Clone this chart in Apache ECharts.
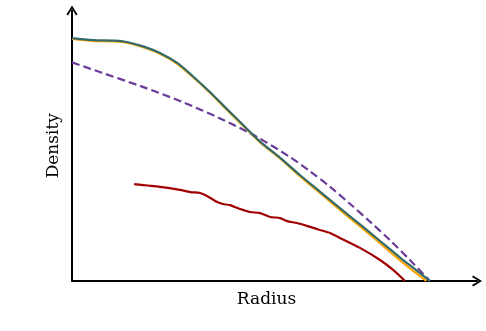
<!DOCTYPE html>
<html>
<head>
<meta charset="utf-8">
<script src="https://cdn.jsdelivr.net/npm/echarts@6/dist/echarts.min.js"></script>
<style>
  html, body { margin: 0; padding: 0; background: #fff; }
  #main { width: 486px; height: 331px; }
</style>
</head>
<body>
<div id="main"></div>
<script>
// radius / density pairs (normalised units)
var tealLine = [
	[0.000, 0.880], [0.051, 0.873], [0.105, 0.871], [0.134, 0.866], [0.174, 0.850],
	[0.215, 0.826], [0.257, 0.790], [0.296, 0.741], [0.337, 0.685], [0.374, 0.630],
	[0.411, 0.576], [0.460, 0.505], [0.509, 0.446], [0.557, 0.384], [0.606, 0.324],
	[0.655, 0.264], [0.704, 0.205], [0.753, 0.145], [0.802, 0.085], [0.839, 0.042],
	[0.875, 0.000]
];
var orangeLine = [
	[0.000, 0.877], [0.051, 0.870], [0.105, 0.868], [0.134, 0.863], [0.174, 0.847],
	[0.215, 0.823], [0.257, 0.787], [0.296, 0.738], [0.337, 0.682], [0.374, 0.627],
	[0.411, 0.573], [0.460, 0.502], [0.509, 0.443], [0.557, 0.380], [0.606, 0.319],
	[0.655, 0.258], [0.704, 0.198], [0.753, 0.137], [0.802, 0.075], [0.839, 0.031],
	[0.866, 0.000]
];
var purpleLine = [
	[0.000, 0.792], [0.068, 0.757], [0.166, 0.707], [0.269, 0.649], [0.362, 0.589],
	[0.452, 0.522], [0.533, 0.449], [0.582, 0.397], [0.631, 0.341], [0.680, 0.279],
	[0.729, 0.214], [0.778, 0.147], [0.826, 0.076], [0.875, 0.000]
];
var redLine = [
	[0.152, 0.351], [0.215, 0.341], [0.264, 0.330], [0.289, 0.322], [0.313, 0.319],
	[0.330, 0.308], [0.355, 0.286], [0.369, 0.279], [0.386, 0.275], [0.411, 0.261],
	[0.435, 0.250], [0.460, 0.246], [0.484, 0.232], [0.509, 0.228], [0.526, 0.217],
	[0.550, 0.210], [0.582, 0.196], [0.606, 0.185], [0.631, 0.174], [0.655, 0.156],
	[0.704, 0.120], [0.753, 0.076], [0.785, 0.040], [0.814, 0.000]
];

// open chevron used as the axis arrow head
var chevron = 'path://M50,0 L100,80 L86,90 L50,30 L14,90 L0,80 Z';

function lineSeries(name, data, color, dash, smooth) {
	return {
		name: name,
		type: 'line',
		data: data,
		showSymbol: false,
		smooth: smooth,
		silent: true,
		lineStyle: { color: color, width: 2.2, type: dash || 'solid', cap: 'butt' }
	};
}

var myChart = echarts.init(document.getElementById('main'));
var option = {
	animation: false,
	grid: { left: 72, top: 10.5, right: 9, bottom: 50, containLabel: false },
	xAxis: {
		type: 'value',
		min: 0,
		max: 0.99,
		name: 'Radius',
		nameLocation: 'middle',
		nameGap: 10,
		nameTextStyle: { fontFamily: 'DejaVu Serif', fontSize: 17, color: '#000', padding: [0, 16, 0, 0] },
		axisLine: { lineStyle: { color: '#000', width: 2 }, symbol: ['none', chevron], symbolSize: [13, 10] },
		axisTick: { show: false },
		axisLabel: { show: false },
		splitLine: { show: false }
	},
	yAxis: {
		type: 'value',
		min: 0,
		max: 0.98,
		name: 'Density',
		nameLocation: 'middle',
		nameGap: 10,
		nameTextStyle: { fontFamily: 'DejaVu Serif', fontSize: 17, color: '#000' },
		axisLine: { lineStyle: { color: '#000', width: 2 }, symbol: ['none', chevron], symbolSize: [13, 10] },
		axisTick: { show: false },
		axisLabel: { show: false },
		splitLine: { show: false }
	},
	series: [
		lineSeries('orange', orangeLine, '#ffa500', null, 0.3),
		lineSeries('purple', purpleLine, '#6a3d9a', [8, 4], 0.3),
		lineSeries('teal', tealLine, '#336b6b', null, 0.3),
		lineSeries('red', redLine, '#a00000', null, 0.2)
	]
};
myChart.setOption(option);
</script>
</body>
</html>
